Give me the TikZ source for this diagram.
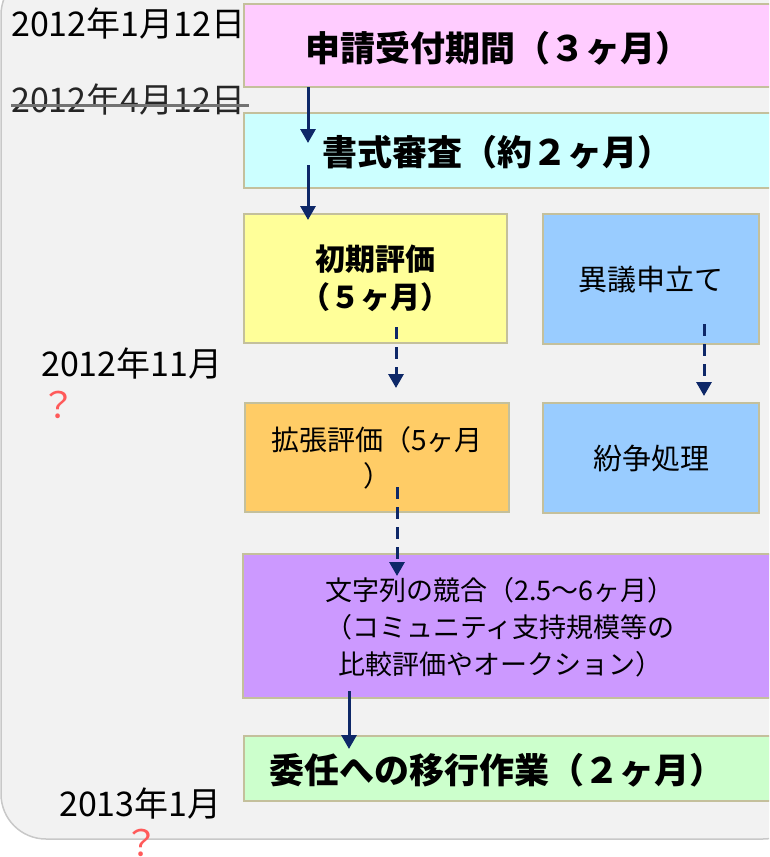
\documentclass[tikz,border=0pt]{standalone}
\usepackage{fontspec}
\setmainfont{Noto Sans CJK JP}
\usetikzlibrary{arrows.meta}
\definecolor{bgc}{RGB}{242,242,242}
\definecolor{bgline}{RGB}{200,200,200}
\definecolor{boxline}{RGB}{196,192,156}
\definecolor{arrowc}{RGB}{14,40,104}
\definecolor{pinkc}{RGB}{255,204,255}
\definecolor{cyanc}{RGB}{204,255,255}
\definecolor{yellowc}{RGB}{255,255,153}
\definecolor{bluec}{RGB}{153,204,255}
\definecolor{orangec}{RGB}{255,204,102}
\definecolor{purplec}{RGB}{204,153,255}
\definecolor{greenc}{RGB}{204,255,204}
\definecolor{qred}{RGB}{255,90,90}
\begin{document}
\begin{tikzpicture}[x=1pt,y=-1pt,
  box/.style={draw=boxline, line width=2.2pt, rectangle, inner sep=0pt, anchor=north west, align=center},
  bigbold/.style={font=\fontsize{35}{42}\selectfont\bfseries},
  midbold/.style={font=\fontsize{30}{38}\selectfont\bfseries},
  midtext/.style={font=\fontsize{29}{36}\selectfont},
  datetext/.style={font=\fontsize{34}{40}\selectfont, anchor=west, inner sep=0pt},
  qmark/.style={font=\fontsize{36}{40}\selectfont, text=qred, inner sep=0pt, text depth=0pt, anchor=base},
  arr/.style={draw=arrowc, line width=3pt, -{Triangle[width=15pt,length=14pt]}},
  dasharr/.style={arr, dash pattern=on 12pt off 8pt}]
\useasboundingbox (0,0) rectangle (769,857);
\clip (0,0) rectangle (769,857);
% background panel
\draw[fill=bgc, draw=bgline, line width=1.5pt, rounded corners=45pt] (1,-30) rectangle (808,839);
% boxes
\node[box, fill=pinkc,   minimum width=557pt, minimum height=83pt]  (b1) at (243,3) {};
\node[box, fill=cyanc,   minimum width=557pt, minimum height=75pt]  (b2) at (243,112) {};
\node[box, fill=yellowc, minimum width=263pt, minimum height=129pt, midbold] (b3) at (243,213) {初期評価\\（５ヶ月）};
\node[box, fill=bluec,   minimum width=216pt, minimum height=130pt, midtext] (b4) at (542,213) {異議申立て};
\node[box, fill=orangec, minimum width=264pt, minimum height=109pt, font=\fontsize{28}{36}\selectfont] (b5) at (244,402) {拡張評価（5ヶ月\\）};
\node[box, fill=bluec,   minimum width=216pt, minimum height=110pt, midtext] (b6) at (542,402) {紛争処理};
\node[box, fill=purplec, minimum width=558pt, minimum height=144pt] (b7) at (242,553) {};
\node[box, fill=greenc,  minimum width=557pt, minimum height=65pt]  (b8) at (243,735) {};
% texts of wide boxes
\node[bigbold] (t1) at (498,48) {申請受付期間（３ヶ月）};
\node[bigbold] (t2) at (497,152) {書式審査（約２ヶ月）};
\node[font=\fontsize{27}{37}\selectfont, align=center] (t7) at (500,627) {文字列の競合（2.5〜6ヶ月）\\（コミュニティ支持規模等の\\比較評価やオークション）};
\node[bigbold] (t8) at (497,770) {委任への移行作業（２ヶ月）};
% dates
\node[datetext] (d1) at (11,24) {2012年1月12日};
\node[datetext, text=black!85] (d2) at (11,100) {2012年4月12日};
\draw[draw=black!55, line width=3pt] ([yshift=-5pt]d2.west) -- ([xshift=4pt,yshift=-5pt]d2.east);
\node[datetext] (d3) at (41,364) {2012年11月};
\node[qmark] (q1) at (58,418) {？};
\node[datetext] (d4) at (59,804) {2013年1月};
\node[qmark] (q2) at (141,856) {？};
% arrow end points
\coordinate (a1s) at (308,87);  \coordinate (a1e) at (308,143);
\coordinate (a2s) at (308,165); \coordinate (a2e) at (308,220);
\coordinate (a3s) at (396,327); \coordinate (a3e) at (396,388);
\coordinate (a4s) at (704,324); \coordinate (a4e) at (704,396);
\coordinate (a5s) at (397,487); \coordinate (a5e) at (397,576);
\coordinate (a6s) at (349,691); \coordinate (a6e) at (349,749);
\draw[arr] (a1s) -- (a1e);
\draw[arr] (a2s) -- (a2e);
\draw[dasharr] (a3s) -- (a3e);
\draw[dasharr] (a4s) -- (a4e);
\draw[dasharr] (a5s) -- (a5e);
\draw[arr] (a6s) -- (a6e);
\end{tikzpicture}
\end{document}
